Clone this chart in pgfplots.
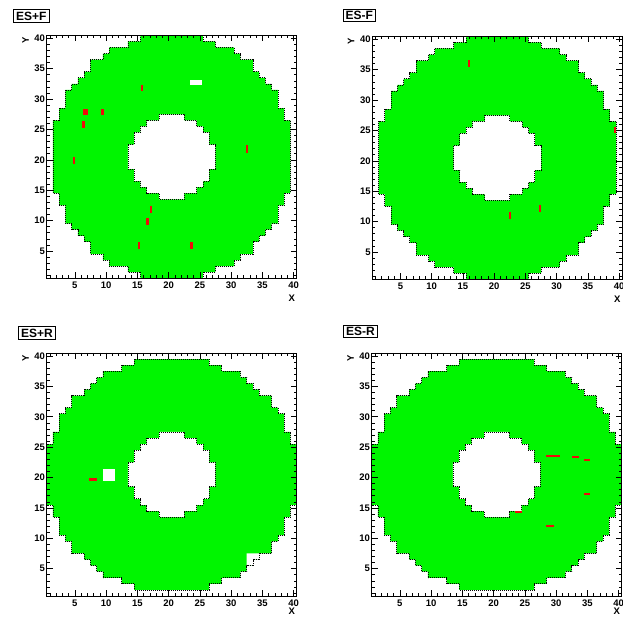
\documentclass[border=0pt]{standalone}
\usepackage{fontspec}
\setmainfont{Liberation Sans}
\usepackage{pgfplots}
\pgfplotsset{compat=1.18}
\usepackage{pgfplotstable}
\definecolor{esgreen}{RGB}{0,245,0}
\definecolor{esred}{RGB}{240,10,10}

% outer boundary of the front planes (cells centred on integers)
\pgfplotstableread{
x y
15.5 40.5
15.5 39.5
13.5 39.5
13.5 38.5
10.5 38.5
10.5 37.5
9.5 37.5
9.5 36.5
7.5 36.5
7.5 34.5
6.5 34.5
6.5 33.5
5.5 33.5
5.5 32.5
4.5 32.5
4.5 31.5
3.5 31.5
3.5 28.5
2.5 28.5
2.5 26.5
1.5 26.5
1.5 14.5
2.5 14.5
2.5 12.5
3.5 12.5
3.5 9.5
4.5 9.5
4.5 8.5
5.5 8.5
5.5 7.5
6.5 7.5
6.5 6.5
7.5 6.5
7.5 4.5
9.5 4.5
9.5 3.5
10.5 3.5
10.5 2.5
13.5 2.5
13.5 1.5
15.5 1.5
15.5 0.5
25.5 0.5
25.5 1.5
27.5 1.5
27.5 2.5
30.5 2.5
30.5 3.5
31.5 3.5
31.5 4.5
33.5 4.5
33.5 6.5
34.5 6.5
34.5 7.5
35.5 7.5
35.5 8.5
36.5 8.5
36.5 9.5
37.5 9.5
37.5 12.5
38.5 12.5
38.5 14.5
39.5 14.5
39.5 26.5
38.5 26.5
38.5 28.5
37.5 28.5
37.5 31.5
36.5 31.5
36.5 32.5
35.5 32.5
35.5 33.5
34.5 33.5
34.5 34.5
33.5 34.5
33.5 36.5
31.5 36.5
31.5 37.5
30.5 37.5
30.5 38.5
27.5 38.5
27.5 39.5
25.5 39.5
25.5 40.5
15.5 40.5
}\outerF

% inner hole
\pgfplotstableread{
x y
18.5 27.5
22.5 27.5
22.5 26.5
24.5 26.5
24.5 25.5
25.5 25.5
25.5 24.5
26.5 24.5
26.5 22.5
27.5 22.5
27.5 18.5
26.5 18.5
26.5 16.5
25.5 16.5
25.5 15.5
24.5 15.5
24.5 14.5
22.5 14.5
22.5 13.5
18.5 13.5
18.5 14.5
16.5 14.5
16.5 15.5
15.5 15.5
15.5 16.5
14.5 16.5
14.5 18.5
13.5 18.5
13.5 22.5
14.5 22.5
14.5 24.5
15.5 24.5
15.5 25.5
16.5 25.5
16.5 26.5
18.5 26.5
18.5 27.5
}\hole

\newcommand{\rect}[5][esred]{\addplot[fill=#1, draw=none] coordinates {(#2,#4) (#3,#4) (#3,#5) (#2,#5)};}

\pgfplotsset{
 esaxis/.style={
  scale only axis, width=250pt, height=243pt,
  xmin=0.5, xmax=40.5, ymin=0.5, ymax=40.5,
  xtick={5,10,...,40}, ytick={5,10,...,40},
  minor xtick={1,...,40}, minor ytick={1,...,40},
  tick align=inside, xtick pos=both, ytick pos=both,
  xticklabel pos=lower, yticklabel pos=left,
  major tick length=6pt, minor tick length=3pt,
  tick style={black, line width=0.6pt},
  axis line style={line width=0.8pt},
  /pgf/number format/assume math mode=true,
  ticklabel style={font=\fontsize{9.5}{10}\selectfont\bfseries},
  yticklabel style={inner sep=1.5pt},
  axis on top, clip=false, anchor=south west,
 },
 outl/.style={black, line width=0.7pt, dash pattern=on 1pt off 1pt},
}

\newcommand{\frontshape}{%
  \addplot[fill=esgreen, draw=none] table[x=x,y=y] {\outerF};
  \addplot[fill=white, draw=none] table[x=x,y=y] {\hole};
  \addplot[outl] table[x=x,y=y] {\outerF};
  \addplot[outl] table[x=x,y=y] {\hole};
}
\newcommand{\rearshape}{%
  \addplot[fill=esgreen, draw=none] table[x=y,y=x] {\outerF};
  \addplot[fill=white, draw=none] table[x=x,y=y] {\hole};
  \addplot[outl] table[x=y,y=x] {\outerF};
  \addplot[outl] table[x=x,y=y] {\hole};
}

\begin{document}
\begin{tikzpicture}[x=1pt,y=1pt]
\path[use as bounding box] (0,0) rectangle (623,617);

% ES+F
\begin{axis}[esaxis, name=a1, at={(46.7pt,338.7pt)}]
\frontshape
\rect{6.35}{7.05}{27.3}{28.3}
\rect{6.15}{6.55}{25.2}{26.4}
\rect{9.25}{9.6}{27.3}{28.3}
\rect{15.55}{15.9}{31.3}{32.3}
\rect[white]{23.5}{25.3}{32.3}{33.2}
\rect{4.65}{5.0}{19.3}{20.4}
\rect{32.35}{32.7}{21.2}{22.4}
\rect{16.95}{17.3}{11.3}{12.4}
\rect{16.45}{16.8}{9.3}{10.4}
\rect{15.15}{15.5}{5.3}{6.4}
\rect{23.45}{23.85}{5.3}{6.4}
\end{axis}

% ES-F
\begin{axis}[esaxis, name=a2, at={(372.3pt,337.7pt)}]
\frontshape
\rect{15.75}{16.1}{35.4}{36.6}
\rect{22.35}{22.7}{10.4}{11.5}
\rect{27.2}{27.55}{11.5}{12.7}
\rect{39.15}{39.5}{24.6}{25.5}
\end{axis}

% ES+R
\begin{axis}[esaxis, name=a3, at={(46.7pt,21pt)}]
\rearshape
\rect{7.3}{8.5}{19.5}{19.85}
\rect[white]{9.5}{11.4}{19.5}{21.4}
\addplot[fill=white, draw=none] coordinates {(32.5,7.5) (34.5,7.5) (34.5,6.5) (33.5,6.5) (33.5,5.5) (32.5,5.5)};
\addplot[outl] coordinates {(34.5,7.5) (34.5,6.5) (33.5,6.5) (33.5,5.5) (32.5,5.5)};
\end{axis}

% ES-R
\begin{axis}[esaxis, name=a4, at={(371.7pt,21pt)}]
\rearshape
\rect{28.4}{30.6}{23.35}{23.7}
\rect{32.5}{33.6}{23.15}{23.5}
\rect{34.5}{35.5}{22.75}{23.1}
\rect{34.5}{35.5}{17.1}{17.45}
\rect{23.4}{24.5}{14.15}{14.5}
\rect{28.4}{29.6}{11.85}{12.2}
\end{axis}

% titles and axis labels
\tikzset{ttl/.style={draw, line width=0.8pt, anchor=north west, inner xsep=2.5pt, inner ysep=2pt,
  text height=8.6pt, text depth=0pt, font=\fontsize{12}{12}\selectfont\bfseries},
  axl/.style={font=\fontsize{9.5}{10}\selectfont\bfseries}}
\node[ttl] at ([xshift=-33.4pt,yshift=26pt]a1.north west) {ES+F};
\node[ttl] at ([xshift=-29.6pt,yshift=27.7pt]a2.north west) {ES-F};
\node[ttl] at ([xshift=-28.4pt,yshift=26.6pt]a3.north west) {ES+R};
\node[ttl] at ([xshift=-28.4pt,yshift=28.3pt]a4.north west) {ES-R};
\foreach \a in {a1,a2}{
  \node[axl] at ([xshift=-5pt,yshift=-19.7pt]\a.south east) {X};
}
\foreach \a in {a3,a4}{
  \node[axl] at ([xshift=-5pt,yshift=-15.5pt]\a.south east) {X};
}
\foreach \a in {a1,a2,a3,a4}{
  \node[axl, rotate=90] at ([xshift=-21.2pt,yshift=-5.5pt]\a.north west) {Y};
}
\end{tikzpicture}
\end{document}
